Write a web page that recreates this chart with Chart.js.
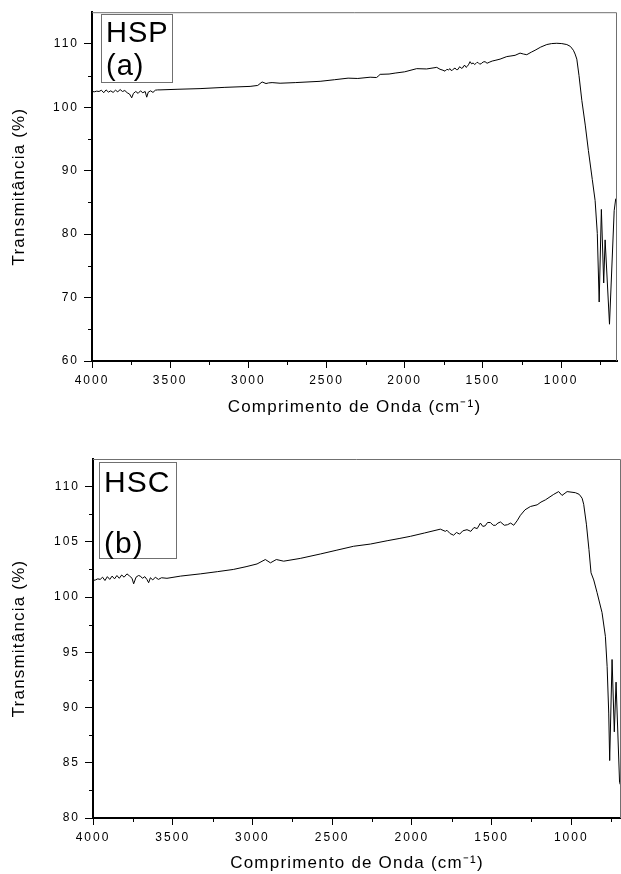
<!DOCTYPE html>
<html>
<head>
<meta charset="utf-8">
<script src="https://cdn.jsdelivr.net/npm/chart.js@4.4.1/dist/chart.umd.min.js"></script>
<style>
  html, body { margin: 0; padding: 0; background: #fff; }
  #boxA { position: absolute; left: 0; top: 0; width: 621px; height: 418px; }
  #boxB { position: absolute; left: 0; top: 418px; width: 621px; height: 456px; }
</style>
</head>
<body>
<div id="boxA"><canvas id="chartA"></canvas></div>
<div id="boxB"><canvas id="chartB"></canvas></div>
<script>
var fontFamily = '"Liberation Sans", Arial, sans-serif';

// ticks
var xMajor = [4000, 3500, 3000, 2500, 2000, 1500, 1000];
var xMinor = [3750, 3250, 2750, 2250, 1750, 1250, 750];
var yMajorA = [60, 70, 80, 90, 100, 110];
var yMinorA = [65, 75, 85, 95, 105];
var yMajorB = [80, 85, 90, 95, 100, 105, 110];
var yMinorB = [82.5, 87.5, 92.5, 97.5, 102.5, 107.5];

// HSP (a)
var hspWave = [4000, 3985, 3970, 3955, 3940, 3925, 3910, 3895, 3880, 3865, 3850, 3835, 3820, 3805, 3790,
  3775, 3760, 3746, 3735, 3720, 3705, 3690, 3675, 3660, 3650, 3640, 3625, 3610, 3595, 3580, 3565, 3450,
  3309, 3150, 2989, 2940, 2912, 2887, 2870, 2848, 2797, 2700, 2541, 2450, 2362, 2300, 2221, 2180, 2170,
  2157, 2100, 2061, 2000, 1923, 1860, 1795, 1774, 1755, 1742, 1730, 1720, 1710, 1700, 1690, 1678, 1670,
  1660, 1652, 1646, 1638, 1630, 1622, 1614, 1607, 1600, 1590, 1582, 1572, 1562, 1553, 1545, 1537, 1530,
  1520, 1510, 1498, 1486, 1473, 1460, 1440, 1422, 1390, 1347, 1320, 1294, 1262, 1240, 1219, 1190, 1166,
  1130, 1091, 1060, 1027, 995, 963, 940, 921, 910, 899, 885, 867, 845, 825, 800, 782, 768, 756, 742, 727,
  718, 690, 660, 650];
var hspTrans = [102.5, 102.45, 102.55, 102.5, 102.7, 102.3, 102.75, 102.4, 102.6, 102.35, 102.7, 102.45, 102.8, 102.5, 102.65,
  102.3, 102.1, 101.5, 102.2, 102.5, 102.2, 102.6, 102.3, 102.5, 101.6, 102.4, 102.6, 102.35, 102.7, 102.75, 102.75, 102.85,
  102.95, 103.15, 103.3, 103.45, 104.0, 103.75, 103.85, 103.9, 103.8, 103.9, 104.1, 104.35, 104.6, 104.55, 104.75, 104.7, 104.9,
  105.2, 105.25, 105.4, 105.6, 106.1, 106.05, 106.3, 106.0, 105.85, 105.7, 106.0, 105.9, 106.1, 105.75, 106.0, 106.2, 105.95,
  105.95, 106.3, 106.4, 106.15, 106.2, 106.55, 106.6, 106.3, 106.45, 106.8, 107.2, 106.85, 107.0, 106.75, 106.9, 107.1, 107.05,
  106.8, 106.9, 107.15, 107.2, 106.95, 107.1, 107.3, 107.4, 107.6, 108.0, 108.1, 108.2, 108.55, 108.4, 108.3, 108.7, 109.0,
  109.5, 109.9, 110.05, 110.1, 110.05, 109.9, 109.6, 109.0, 108.4, 107.6, 105.0, 101.1, 97.2, 93.2, 88.6, 85.3, 80.1, 69.3, 83.9, 72.3,
  79.1, 65.8, 83.7, 85.6];

// HSC (b)
var hscWave = [4000, 3985, 3970, 3955, 3940, 3925, 3910, 3895, 3880, 3865, 3850, 3835, 3820, 3805, 3787,
  3770, 3755, 3745, 3730, 3715, 3703, 3690, 3675, 3662, 3651, 3640, 3625, 3609, 3590, 3570, 3536, 3450,
  3327, 3220, 3120, 3040, 2971, 2919, 2887, 2850, 2804, 2700, 2574, 2470, 2365, 2260, 2155, 2080, 2009,
  1921, 1821, 1790, 1780, 1760, 1738, 1720, 1700, 1680, 1654, 1630, 1610, 1590, 1570, 1555, 1540, 1525,
  1507, 1490, 1475, 1460, 1444, 1420, 1400, 1380, 1361, 1340, 1319, 1290,
  1256, 1214, 1190, 1162, 1110, 1079, 1058, 1026, 974, 950, 932, 922, 905, 889, 876, 859, 838, 807, 786,
  775, 765, 759, 744, 730, 719, 697, 688];
var hscTrans = [101.5, 101.55, 101.65, 101.6, 101.8, 101.5, 101.85, 101.6, 101.9, 101.65, 101.95, 101.7, 102.0, 101.8, 102.1,
  101.9, 101.7, 101.2, 101.8, 101.95, 101.9, 101.7, 101.85, 101.6, 101.3, 101.75, 101.55, 101.8, 101.6, 101.75, 101.7, 101.9,
  102.1, 102.3, 102.5, 102.75, 103.0, 103.4, 103.1, 103.4, 103.25, 103.5, 103.9, 104.25, 104.6, 104.8, 105.1, 105.3, 105.5,
  105.8, 106.15, 105.95, 106.05, 105.75, 105.6, 105.85, 105.7, 106.0, 106.1, 105.95, 106.3, 106.2, 106.7, 106.4, 106.45, 106.75,
  106.75, 106.5, 106.5, 106.7, 106.8, 106.5, 106.55, 106.7, 106.5, 106.9, 107.4, 107.9,
  108.2, 108.35, 108.6, 108.8, 109.3, 109.55, 109.2, 109.55, 109.45, 109.3, 108.95, 108.4, 106.6, 104.3, 102.2, 101.55, 100.4, 98.6, 96.45,
  93.7, 89.5, 85.2, 94.35, 87.8, 92.3, 83.2, 82.9];

function toPoints(xs, ys) {
  return xs.map(function (x, i) { return { x: x, y: ys[i] }; });
}

// letter spacing for canvas text, by font size
var spacingPlugin = {
  id: 'spacing',
  beforeDraw: function (chart) {
    var ctx = chart.ctx;
    if (ctx._spaced) return;
    var fill = ctx.fillText;
    ctx.fillText = function (t, x, y, w) {
      var m = /(\d+(\.\d+)?)px/.exec(ctx.font);
      var size = m ? parseFloat(m[1]) : 12;
      ctx.letterSpacing = size <= 13 ? '2px' : (size <= 18 ? '1.2px' : '1px');
      if (w === undefined) return fill.call(ctx, t, x, y);
      return fill.call(ctx, t, x, y, w);
    };
    ctx._spaced = true;
  }
};

var framePlugin = {
  id: 'frame',
  afterDraw: function (chart, args, opts) {
    var a = chart.chartArea, ctx = chart.ctx;
    var xs = chart.scales.x, ys = chart.scales.y;
    ctx.save();
    ctx.strokeStyle = '#000';
    ctx.lineWidth = 1;
    ctx.beginPath();
    opts.xMinor.forEach(function (v) {
      if (v < xs.min || v > xs.max) return;
      var px = Math.round(xs.getPixelForValue(v)) + 0.5;
      ctx.moveTo(px, a.bottom);
      ctx.lineTo(px, a.bottom + 4);
    });
    opts.yMinor.forEach(function (v) {
      var py = Math.round(ys.getPixelForValue(v)) + 0.5;
      ctx.moveTo(a.left - 4, py);
      ctx.lineTo(a.left, py);
    });
    ctx.stroke();
    ctx.strokeStyle = '#707070';
    ctx.beginPath();
    ctx.moveTo(a.left, a.top + 0.5);
    ctx.lineTo(a.right - 0.5, a.top + 0.5);
    ctx.lineTo(a.right - 0.5, a.bottom);
    ctx.stroke();
    ctx.restore();
  }
};

var boxPlugin = {
  id: 'sampleBox',
  afterDraw: function (chart, args, opts) {
    var a = chart.chartArea, ctx = chart.ctx;
    var x = Math.round(a.left + opts.dx), y = Math.round(a.top + opts.dy);
    ctx.save();
    ctx.fillStyle = '#fff';
    ctx.fillRect(x, y, opts.w, opts.h);
    ctx.strokeStyle = '#707070';
    ctx.lineWidth = 1;
    ctx.strokeRect(x + 0.5, y + 0.5, opts.w, opts.h);
    ctx.fillStyle = '#000';
    ctx.font = opts.size + 'px ' + fontFamily;
    ctx.textAlign = 'left';
    ctx.textBaseline = 'alphabetic';
    opts.lines.forEach(function (t, i) {
      ctx.fillText(t, x + opts.pad, y + opts.baselines[i]);
    });
    ctx.restore();
  }
};

function makeChart(id, cfg) {
  return new Chart(document.getElementById(id), {
    type: 'line',
    data: {
      datasets: [{
        data: toPoints(cfg.wave, cfg.trans),
        borderColor: '#000',
        borderWidth: 1,
        pointRadius: 0,
        tension: 0,
        fill: false
      }]
    },
    options: {
      responsive: true,
      maintainAspectRatio: false,
      animation: false,
      layout: { padding: { top: cfg.padTop, right: cfg.padRight, left: 0, bottom: 0 } },
      plugins: {
        legend: { display: false },
        tooltip: { enabled: false },
        frame: { xMinor: xMinor, yMinor: cfg.yMinor },
        sampleBox: cfg.box
      },
      scales: {
        x: {
          type: 'linear',
          reverse: true,
          min: cfg.xMin,
          max: 4000,
          afterBuildTicks: function (s) { s.ticks = xMajor.map(function (v) { return { value: v }; }); },
          afterFit: function (s) { s.height = cfg.xHeight; },
          grid: { drawOnChartArea: false, tickLength: 7, tickColor: '#000', tickWidth: 1 },
          border: { color: '#000', width: 2 },
          ticks: {
            color: '#000',
            font: { family: fontFamily, size: 12 },
            padding: 5,
            maxRotation: 0,
            autoSkip: false,
            callback: function (v) { return String(v); }
          },
          title: {
            display: true,
            text: 'Comprimento de Onda (cm\u207B\u00B9)',
            color: '#000',
            font: { family: fontFamily, size: 17 },
            padding: { top: 0, bottom: 0 }
          }
        },
        y: {
          min: cfg.yMin,
          max: cfg.yMax,
          afterBuildTicks: function (s) { s.ticks = cfg.yMajor.map(function (v) { return { value: v }; }); },
          afterFit: function (s) { s.width = cfg.yWidth; },
          grid: { drawOnChartArea: false, tickLength: 8, tickColor: '#000', tickWidth: 1 },
          border: { color: '#000', width: 2 },
          ticks: {
            color: '#000',
            font: { family: fontFamily, size: 12 },
            padding: 5,
            autoSkip: false,
            callback: function (v) { return String(v); }
          },
          title: {
            display: true,
            text: 'Transmitância (%)',
            color: '#000',
            font: { family: fontFamily, size: 17 },
            padding: { top: 9, bottom: 0 }
          }
        }
      }
    },
    plugins: [spacingPlugin, framePlugin, boxPlugin]
  });
}

makeChart('chartA', {
  wave: hspWave, trans: hspTrans,
  xMin: 642, yMin: 60, yMax: 115,
  yMajor: yMajorA, yMinor: yMinorA,
  padTop: 12, padRight: 4, xHeight: 57, yWidth: 92,
  box: { lines: ['HSP', '(a)'], dx: 9, dy: 2, w: 71, h: 68, pad: 5, size: 29, baselines: [28, 61] }
});

makeChart('chartB', {
  wave: hscWave, trans: hscTrans,
  xMin: 688, yMin: 80, yMax: 112.5,
  yMajor: yMajorB, yMinor: yMinorB,
  padTop: 41, padRight: 0, xHeight: 56, yWidth: 93,
  box: { lines: ['HSC', '(b)'], dx: 6, dy: 3, w: 77, h: 96, pad: 5, size: 30, baselines: [30, 91] }
});
</script>
</body>
</html>
